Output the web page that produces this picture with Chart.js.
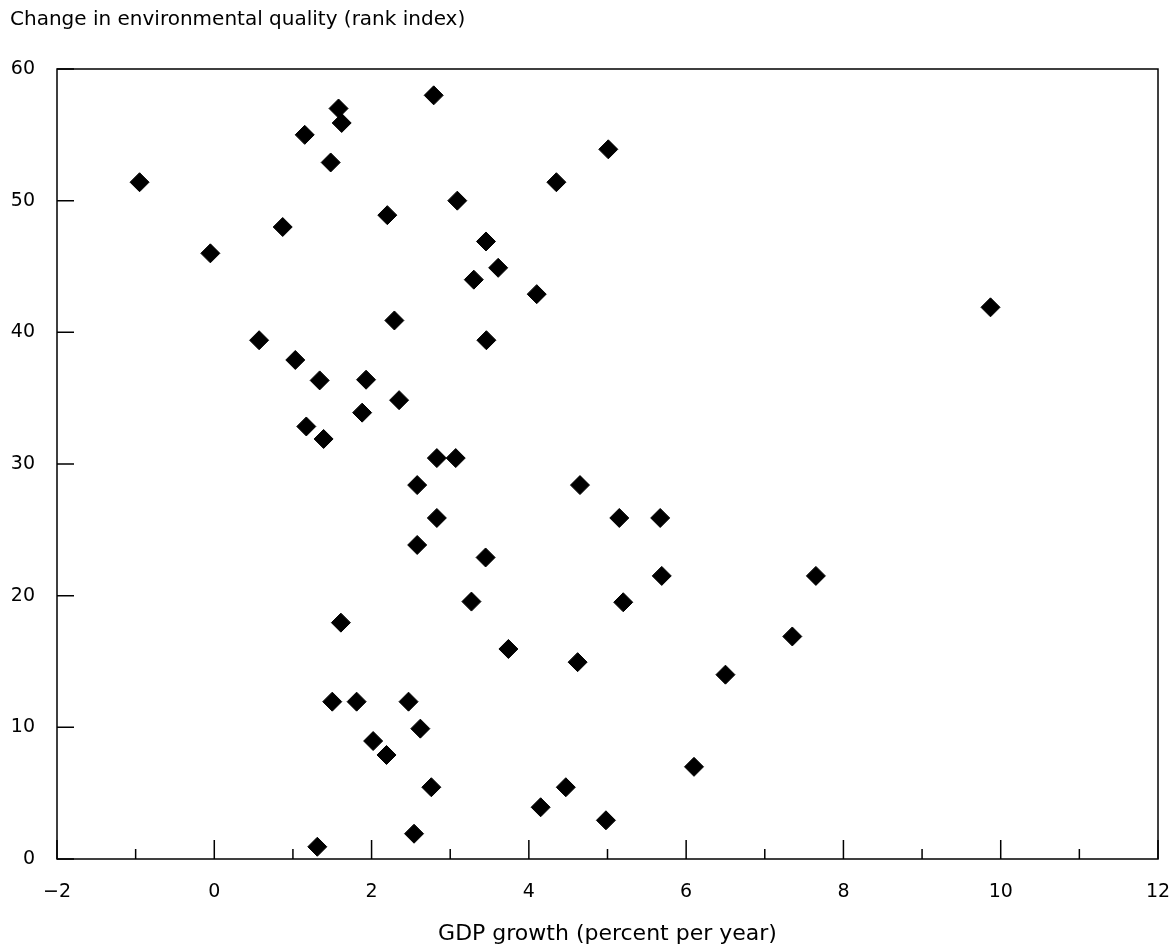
<!DOCTYPE html>
<html>
<head>
<meta charset="utf-8">
<title>GDP growth and environmental quality</title>
<script src="https://cdn.jsdelivr.net/npm/chart.js@4.4.1/dist/chart.umd.min.js"></script>
<style>
  html, body { margin: 0; padding: 0; background: #fff; overflow: hidden; }
  #wrap { width: 1173px; height: 951px; }
  canvas { display: block; }
</style>
</head>
<body>
<div id="wrap"><canvas id="scatter"></canvas></div>
<script>
// values
const gdpGrowth = [
  -0.95, -0.05, 0.87, 1.15, 1.58, 1.62, 1.48, 2.79, 3.09, 2.20,
  2.29, 0.57, 1.03, 1.34, 1.93, 2.35, 1.88, 1.17, 1.39, 2.83,
  3.07, 5.01, 4.35, 3.455, 3.61, 3.30, 4.10, 3.46, 9.87, 7.65,
  7.35, 2.58, 2.83, 2.58, 1.61, 1.50, 1.81, 2.47, 2.62, 2.02,
  2.19, 2.76, 2.54, 1.31, 4.65, 5.15, 5.67, 3.45, 5.69, 3.27,
  5.20, 3.74, 4.62, 6.50, 6.10, 4.47, 4.15, 4.98
];
const envChange = [
  51.4, 46.0, 48.0, 55.0, 57.0, 55.9, 52.9, 58.0, 50.0, 48.9,
  40.9, 39.4, 37.9, 36.35, 36.4, 34.85, 33.9, 32.85, 31.9, 30.45,
  30.45, 53.9, 51.4, 46.9, 44.9, 44.0, 42.9, 39.4, 41.9, 21.5,
  16.9, 28.4, 25.9, 23.85, 17.95, 11.95, 11.95, 11.95, 9.9, 8.96,
  7.9, 5.45, 1.92, 0.93, 28.4, 25.9, 25.9, 22.9, 21.5, 19.55,
  19.5, 15.95, 14.95, 14.0, 7.0, 5.45, 3.93, 2.94
];
const xLabels = [-2, 0, 2, 4, 6, 8, 10, 12];
const yLabels = [0, 10, 20, 30, 40, 50, 60];

const points = gdpGrowth.map((g, i) => ({ x: g, y: envChange[i] }));

// box around the plot plus the short inward tick marks
const framePlugin = {
  id: 'frame',
  afterDraw(chart) {
    const { ctx, chartArea: a, scales } = chart;
    ctx.save();
    ctx.strokeStyle = '#000';
    ctx.lineWidth = 1.5;
    ctx.strokeRect(a.left, a.top, a.right - a.left, a.bottom - a.top);

    ctx.beginPath();
    scales.x.ticks.forEach(t => {
      const px = scales.x.getPixelForValue(t.value);
      const len = (t.value % 2 === 0) ? 19 : 10;
      ctx.moveTo(px, a.bottom);
      ctx.lineTo(px, a.bottom - len);
    });
    scales.y.ticks.forEach(t => {
      const py = scales.y.getPixelForValue(t.value);
      ctx.moveTo(a.left, py);
      ctx.lineTo(a.left + 17, py);
    });
    ctx.stroke();
    ctx.restore();
  }
};

const fontFamily = '"DejaVu Sans", Verdana, sans-serif';

new Chart(document.getElementById('scatter'), {
  type: 'scatter',
  data: {
    datasets: [{
      data: points,
      pointStyle: 'rectRot',
      pointRadius: 9.5,
      pointHoverRadius: 9.5,
      backgroundColor: '#000',
      borderColor: '#000',
      borderWidth: 1
    }]
  },
  options: {
    responsive: true,
    maintainAspectRatio: false,
    animation: false,
    events: [],
    layout: {
      padding: { top: 0, left: 10, right: 15, bottom: 0 }
    },
    plugins: {
      legend: { display: false },
      tooltip: { enabled: false },
      title: {
        display: true,
        text: 'Change in environmental quality (rank index)',
        align: 'start',
        color: '#000',
        font: { family: fontFamily, size: 20, weight: 'normal' },
        padding: { top: 8, bottom: 37 }
      }
    },
    scales: {
      x: {
        type: 'linear',
        min: -2,
        max: 12,
        grid: { display: false, drawTicks: false },
        border: { display: false },
        afterFit(scale) {
          scale.height = 92;
          // tick padding would otherwise push the right edge inward
          scale.paddingLeft = 0;
          scale.paddingRight = 0;
        },
        ticks: {
          stepSize: 1,
          padding: 22,
          color: '#000',
          font: { family: fontFamily, size: 19 },
          autoSkip: false,
          maxRotation: 0,
          callback: v => xLabels.includes(v) ? String(v).replace('-', '\u2212') : ''
        },
        title: {
          display: true,
          text: 'GDP growth (percent per year)',
          color: '#000',
          font: { family: fontFamily, size: 22 },
          padding: { top: 0, bottom: 4 }
        }
      },
      y: {
        type: 'linear',
        min: 0,
        max: 60,
        grid: { display: false, drawTicks: false },
        border: { display: false },
        afterFit(scale) { scale.width = 47; },
        ticks: {
          stepSize: 10,
          padding: 22,
          color: '#000',
          font: { family: fontFamily, size: 19 },
          callback: v => yLabels.includes(v) ? String(v) : ''
        }
      }
    }
  },
  plugins: [framePlugin]
});
</script>
</body>
</html>
